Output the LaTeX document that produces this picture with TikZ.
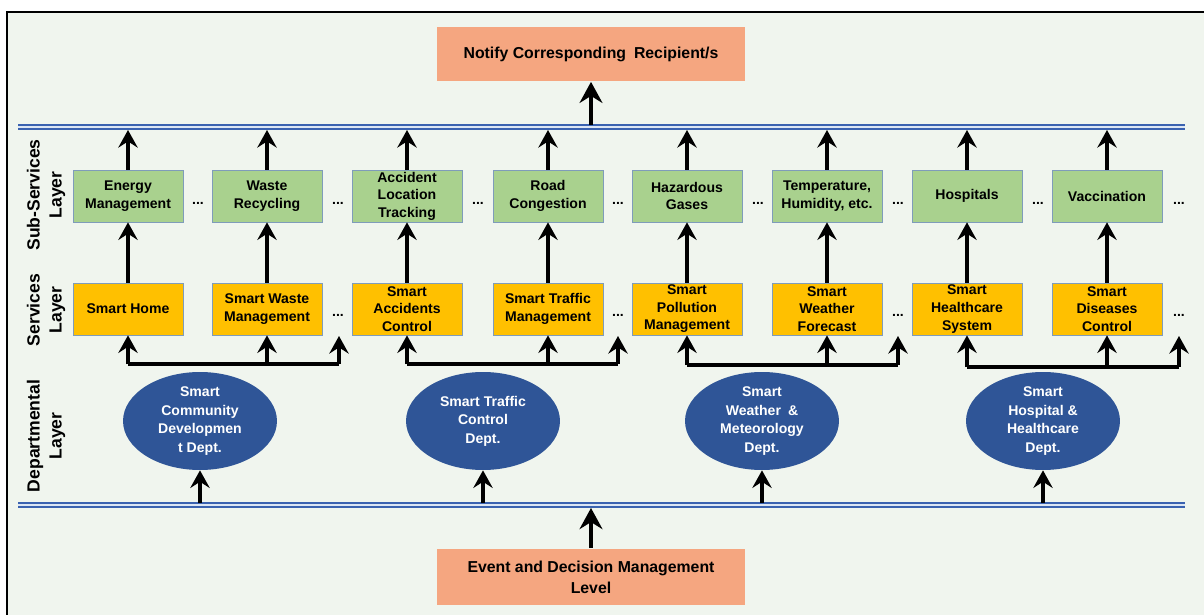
\documentclass[tikz,border=0pt]{standalone}
\usepackage{fontspec}
\setmainfont{Liberation Sans}
\usepackage{tikz}
\usepackage{xcolor}
\usetikzlibrary{arrows.meta, positioning, calc, shapes.geometric}

\definecolor{bgpanel}{HTML}{F0F5EE}
\definecolor{salmon}{HTML}{F5A680}
\definecolor{subgreen}{HTML}{A9D18E}
\definecolor{srvyellow}{HTML}{FFC000}
\definecolor{boxedge}{HTML}{7F9CBA}
\definecolor{deptblue}{HTML}{2F5597}
\definecolor{barblue}{HTML}{3A62B0}
\definecolor{barlight}{HTML}{DCE6F4}

\begin{document}
\begin{tikzpicture}[x=0.02cm, y=-0.02cm,
    every node/.style={font=\bfseries\fontsize{8}{10}\selectfont, align=center},
    notebox/.style={fill=salmon, minimum width=6.16cm, minimum height=1.1cm, font=\bfseries\fontsize{9}{12}\selectfont},
    subbox/.style={draw=boxedge, fill=subgreen, minimum width=2.2cm, minimum height=1.04cm, inner sep=0pt},
    srvbox/.style={draw=boxedge, fill=srvyellow, minimum width=2.2cm, minimum height=1.04cm, inner sep=0pt},
    dept/.style={ellipse, fill=deptblue, text=white, minimum width=3.08cm, minimum height=1.96cm, inner sep=0pt, font=\bfseries\fontsize{8}{10.6}\selectfont},
    layer/.style={rotate=90, font=\bfseries\fontsize{10}{12.5}\selectfont},
    dotsep/.style={inner sep=0pt},
    bus/.style={draw=barblue, line width=1.2pt, double=barlight, double distance=1.4pt},
    arr/.style={-{Stealth[length=10pt, width=11pt, inset=3.5pt]}, line width=2pt},
    bigarr/.style={-{Stealth[length=12pt, width=13pt, inset=4pt]}, line width=2.4pt},
    brk/.style={line width=2.3pt}]

    % panel and frame
    \useasboundingbox (0,0) rectangle (1204,615);
    \fill[bgpanel] (7,12) rectangle (1204,615);
    \draw[line width=1.2pt] (7,615) -- (7,12) -- (1204,12);

    % top and bottom boxes
    \node[notebox] (notify) at (591,54) {Notify Corresponding\enspace Recipient/s};
    \node[notebox, minimum height=1.14cm] (event) at (591,577) {Event and Decision Management\\Level};

    % buses
    \coordinate (topbus) at (591,125);
    \coordinate (botbus) at (591,508);
    \draw[bus] (18,127) -- (1185,127);
    \draw[bus] (18,505) -- (1185,505);
    \draw[bigarr] (topbus) -- (notify.south);
    \draw[bigarr] (event.north) -- (botbus);

    % layer labels
    \node[layer] (lsub) at (46,195) {Sub-Services\\Layer};
    \node[layer] (lsrv) at (46,310) {Services\\Layer};
    \node[layer] (ldep) at (46,436) {Departmental\\Layer};

    % sub-services layer
    \node[subbox] (sub1) at (128,196) {Energy\\Management};
    \node[subbox] (sub2) at (267,196) {Waste\\Recycling};
    \node[subbox] (sub3) at (407,196) {Accident\\Location\\Tracking};
    \node[subbox] (sub4) at (548,196) {Road\\Congestion};
    \node[subbox] (sub5) at (687,196) {Hazardous\\Gases};
    \node[subbox] (sub6) at (827,196) {Temperature,\\Humidity, etc.};
    \node[subbox] (sub7) at (967,196) {Hospitals};
    \node[subbox] (sub8) at (1107,196) {Vaccination};

    % services layer
    \node[srvbox] (srv1) at (128,309) {Smart Home};
    \node[srvbox] (srv2) at (267,309) {Smart Waste\\Management};
    \node[srvbox] (srv3) at (407,309) {Smart\\Accidents\\Control};
    \node[srvbox] (srv4) at (548,309) {Smart Traffic\\Management};
    \node[srvbox] (srv5) at (687,309) {Smart\\Pollution\\Management};
    \node[srvbox] (srv6) at (827,309) {Smart\\Weather\\Forecast};
    \node[srvbox] (srv7) at (967,309) {Smart\\Healthcare\\System};
    \node[srvbox] (srv8) at (1107,309) {Smart\\Diseases\\Control};

    % continuation dots
    \foreach \i/\x in {1/198,2/338,3/478,4/618,5/758,6/898,7/1038,8/1179}
      \node[dotsep] (sdots\i) at (\x,203) {...};
    \foreach \i/\x in {2/338,4/618,6/898,8/1179}
      \node[dotsep] (vdots\i) at (\x,315) {...};

    % upward links
    \foreach \i in {1,...,8} {
      \draw[arr] (sub\i.north) -- ($(sub\i.north |- topbus)+(0,5)$);
      \draw[arr] (srv\i.north) -- (sub\i.south);
    }

    % departments
    \node[dept] (dep1) at (200,421) {Smart\\Community\\Developmen\\t Dept.};
    \node[dept] (dep2) at (483,421) {Smart Traffic\\Control\\Dept.};
    \node[dept] (dep3) at (762,421) {Smart\\Weather\enspace\&\\Meteorology\\Dept.};
    \node[dept] (dep4) at (1043,421) {Smart\\Hospital \&\\Healthcare\\Dept.};
    \foreach \i in {1,...,4}
      \draw[arr] ($(dep\i.south |- botbus)+(0,-5)$) -- (dep\i.south);

    % brackets under the services
    \coordinate (g1) at (339,364);  \coordinate (g1end) at (339,336);
    \coordinate (g2) at (618,364);  \coordinate (g2end) at (618,336);
    \coordinate (g3) at (898,365);  \coordinate (g3end) at (898,336);
    \coordinate (g4) at (1179,367); \coordinate (g4end) at (1179,336);
    \draw[brk] (srv1.south |- g1) -- (g1);
    \draw[brk] (srv3.south |- g2) -- (g2);
    \draw[brk] (srv5.south |- g3) -- (g3);
    \draw[brk] (srv7.south |- g4) -- (g4);
    \draw[arr] (srv1.south |- g1) -- (srv1.south);
    \draw[arr] (srv2.south |- g1) -- (srv2.south);
    \draw[arr] (g1) -- (g1end);
    \draw[arr] (srv3.south |- g2) -- (srv3.south);
    \draw[arr] (srv4.south |- g2) -- (srv4.south);
    \draw[arr] (g2) -- (g2end);
    \draw[arr] (srv5.south |- g3) -- (srv5.south);
    \draw[arr] (srv6.south |- g3) -- (srv6.south);
    \draw[arr] (g3) -- (g3end);
    \draw[arr] (srv7.south |- g4) -- (srv7.south);
    \draw[arr] (srv8.south |- g4) -- (srv8.south);
    \draw[arr] (g4) -- (g4end);
  \end{tikzpicture}
\end{document}
